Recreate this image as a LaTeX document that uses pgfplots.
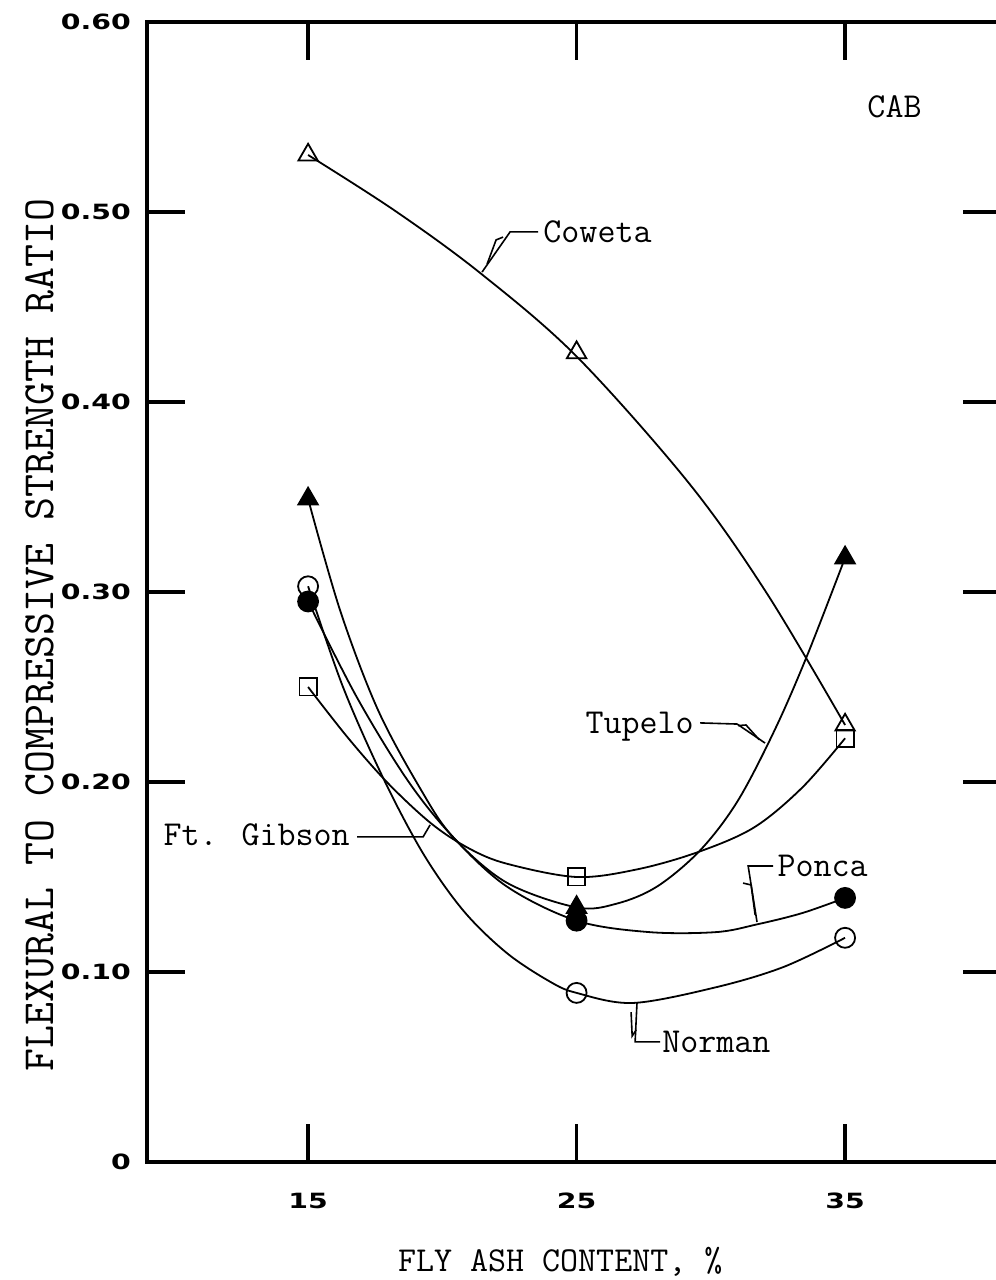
\documentclass[border=0pt]{standalone}
\usepackage{pgfplots}
\pgfplotsset{compat=1.18}
\usepackage{fontspec}
\newfontfamily\tickfont{DejaVu Sans Bold}[FakeStretch=1.35]
\begin{document}
\begin{tikzpicture}
\begin{axis}[name=ax, scale only axis, width=426.9pt, height=570pt,
  xmin=9, xmax=40.8, ymin=0, ymax=0.6,
  xtick={15,25,35}, xticklabels={15,25,35},
  ytick={0,0.1,0.2,0.3,0.4,0.5,0.6},
  yticklabels={0,0.10,0.20,0.30,0.40,0.50,0.60},
  xticklabel pos=lower, yticklabel pos=left, tick pos=both,
  tick align=inside, major tick length=19pt,
  every tick/.style={black, line width=1.8pt},
  axis line style={line width=2pt},
  ticklabel style={font={\tickfont\fontsize{10.5}{12}\selectfont}},
  yticklabel style={xshift=-4.5pt},
  xticklabel style={yshift=-12pt},
  xlabel={FLY ASH CONTENT, \%},
  xlabel style={at={(axis description cs:0.484,-0.0877)}, anchor=center, font=\ttfamily\fontsize{17.5}{20}\selectfont},
  ylabel={FLEXURAL TO COMPRESSIVE STRENGTH RATIO},
  ylabel style={at={(axis description cs:-0.1253,0.462)}, anchor=center, font=\ttfamily\fontsize{22.3}{24}\selectfont},
  clip=false
]
% curves
\addplot[black, line width=0.9pt, smooth, tension=0.55] coordinates {
 (15,0.530) (18.2,0.501) (21.4,0.468) (25,0.424) (29.2,0.357) (32.1,0.299) (35,0.230)};
\addplot[black, line width=0.9pt, smooth, tension=0.55] coordinates {
 (15,0.349) (16.2,0.290) (17.6,0.238) (19.2,0.196) (20.4,0.171) (22.4,0.147)
 (25,0.134) (26.5,0.136) (28.0,0.145) (29.6,0.164) (31.0,0.190) (32.4,0.228) (33.6,0.267) (35,0.318)};
\addplot[black, line width=0.9pt, smooth, tension=0.55] coordinates {
 (15,0.295) (16.8,0.245) (18.7,0.201) (20.4,0.171) (22.4,0.145) (25,0.127)
 (27.7,0.121) (30.2,0.121) (31.7,0.125) (33.4,0.131) (35,0.139)};
\addplot[black, line width=0.9pt, smooth, tension=0.55] coordinates {
 (15,0.303) (16.3,0.250) (17.8,0.202) (19.3,0.162) (20.8,0.132) (22.4,0.110)
 (24.0,0.095) (25,0.089) (27.1,0.0837) (30.2,0.092) (32.7,0.1026) (35,0.118)};
\addplot[black, line width=0.9pt, smooth, tension=0.55] coordinates {
 (15,0.250) (16.5,0.223) (18.0,0.199) (19.6,0.178) (21.0,0.165) (22.4,0.157)
 (25,0.150) (27.25,0.154) (29.5,0.163) (31.6,0.176) (33.4,0.197) (35,0.223)};
% markers
\addplot[only marks, mark=o, mark size=5pt, mark options={fill=white, line width=0.9pt}] coordinates {(15,0.303) (25,0.089) (35,0.118)};
\addplot[only marks, mark=*, mark size=5pt, mark options={fill=black, line width=0.9pt}] coordinates {(15,0.295) (25,0.127) (35,0.139)};
\addplot[only marks, mark=triangle*, mark size=5.6pt, mark options={fill=black, line width=0.9pt}] coordinates {(15,0.349) (25,0.134) (35,0.318)};
\addplot[only marks, mark=triangle, mark size=5.6pt, mark options={fill=white, line width=0.9pt}] coordinates {(15,0.530) (25,0.426) (35,0.230)};
\addplot[only marks, mark=square, mark size=4.3pt, mark options={fill=white, line width=0.9pt}] coordinates {(15,0.250) (25,0.150) (35,0.223)};
% labels
\begin{scope}[every node/.style={font=\ttfamily\fontsize{17.5}{20}\selectfont, inner sep=0pt, anchor=base west}]
\node at (axis cs:35.82,0.5495) {CAB};
\node at (axis cs:23.75,0.4837) {Coweta};
\node at (axis cs:25.32,0.2253) {Tupelo};
\node at (axis cs:9.60,0.1664) {Ft. Gibson};
\node at (axis cs:32.47,0.1501) {Ponca};
\node at (axis cs:28.18,0.0574) {Norman};
\end{scope}
% leaders
\begin{scope}[line width=0.8pt]
\draw (axis cs:23.566,0.4895) -- (axis cs:22.523,0.4895) -- (axis cs:21.48,0.4684);
\draw (axis cs:22.263,0.4868) -- (axis cs:22.002,0.4853) -- (axis cs:21.667,0.4726);
\draw (axis cs:29.60,0.2311) -- (axis cs:30.978,0.2305) -- (axis cs:32.02,0.2205);
\draw (axis cs:31.015,0.2297) -- (axis cs:31.31,0.2300) -- (axis cs:31.80,0.2223);
\draw (axis cs:16.825,0.1711) -- (axis cs:19.283,0.1711) -- (axis cs:19.544,0.1774);
\draw (axis cs:32.32,0.1558) -- (axis cs:31.39,0.1558) -- (axis cs:31.72,0.1263);
\draw (axis cs:31.20,0.1468) -- (axis cs:31.50,0.1458) -- (axis cs:31.65,0.13);
\draw (axis cs:28.11,0.0632) -- (axis cs:27.18,0.0632) -- (axis cs:27.25,0.0837);
\draw (axis cs:27.03,0.0789) -- (axis cs:27.07,0.0663) -- (axis cs:27.22,0.0695);
\end{scope}
\end{axis}
\pgfresetboundingbox
\path ([xshift=-73.5pt,yshift=-59pt]ax.south west) rectangle ([xshift=424.5pt,yshift=11pt]ax.north west);
\end{tikzpicture}
\end{document}
